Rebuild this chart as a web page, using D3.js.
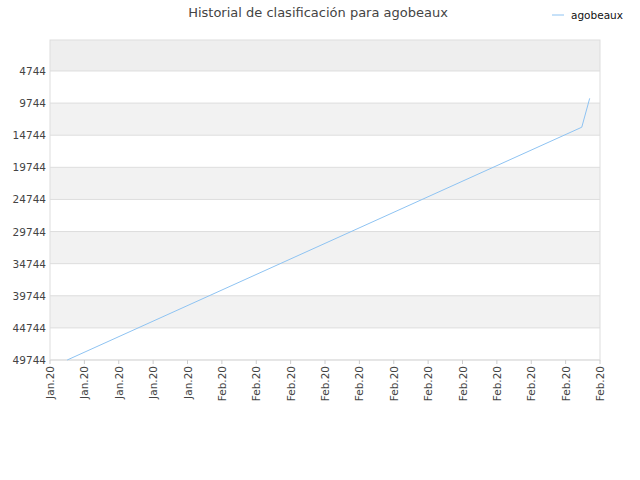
<!DOCTYPE html>
<html><head><meta charset="utf-8">
<script src="https://cdn.jsdelivr.net/npm/d3@7"></script>
<style>body{margin:0;background:#fff}text{font-family:"DejaVu Sans",sans-serif}</style>
</head><body><svg id="c" width="640" height="480"></svg>
<script>
const title = "Historial de clasificación para agobeaux";
const seriesName = "agobeaux";
const xLabels = ["Jan.20","Jan.20","Jan.20","Jan.20","Jan.20","Feb.20","Feb.20","Feb.20","Feb.20","Feb.20","Feb.20","Feb.20","Feb.20","Feb.20","Feb.20","Feb.20","Feb.20"];
const yTicks = [4744,9744,14744,19744,24744,29744,34744,39744,44744,49744];
const pointX = [0.5, 15.47, 15.7];
const pointRank = [49744, 13500, 9000];

const svg = d3.select("#c");
const L=50,R=600,T=40,B=360;
const x = d3.scaleLinear().domain([0,xLabels.length-1]).range([L,R]);
const y = d3.scaleLinear().domain([-80,49744]).range([T,B]);

const edges=[-80,...yTicks];
for(let i=0;i<edges.length-1;i++){
  svg.append("rect").attr("x",L).attr("width",R-L)
    .attr("y",y(edges[i])).attr("height",y(edges[i+1])-y(edges[i]))
    .attr("fill", i===0?"#eeeeee":(i%2===0?"#f2f2f2":"#ffffff"));
}
yTicks.forEach(v=>svg.append("line").attr("x1",L).attr("x2",R).attr("y1",y(v)).attr("y2",y(v)).attr("stroke","#dddddd"));
svg.append("rect").attr("x",L).attr("y",T).attr("width",R-L).attr("height",B-T).attr("fill","none").attr("stroke","#dddddd");

yTicks.forEach(v=>svg.append("text").attr("x",L-4).attr("y",y(v)+4).attr("text-anchor","end").attr("font-size",10.5).attr("fill","#444").text(v));
xLabels.forEach((t,i)=>{
  svg.append("line").attr("x1",x(i)).attr("x2",x(i)).attr("y1",B).attr("y2",B+4).attr("stroke","#ccc");
  svg.append("text").attr("transform",`translate(${x(i)+4},${B+6}) rotate(-90)`).attr("text-anchor","end").attr("font-size",10.5).attr("fill","#444").text(t);
});

const pts=pointX.map((d,i)=>[x(d),y(pointRank[i])]);
svg.append("path").attr("d",d3.line()(pts)).attr("fill","none").attr("stroke","#8ec3f2").attr("stroke-width",1);

svg.append("text").attr("x",318).attr("y",17).attr("text-anchor","middle").attr("font-size",13).attr("fill","#444").text(title);
svg.append("line").attr("x1",552).attr("x2",564).attr("y1",15).attr("y2",15).attr("stroke","#8ec3f2");
svg.append("text").attr("x",571).attr("y",19).attr("font-size",10.5).attr("fill","#111").text(seriesName);
</script></body></html>
